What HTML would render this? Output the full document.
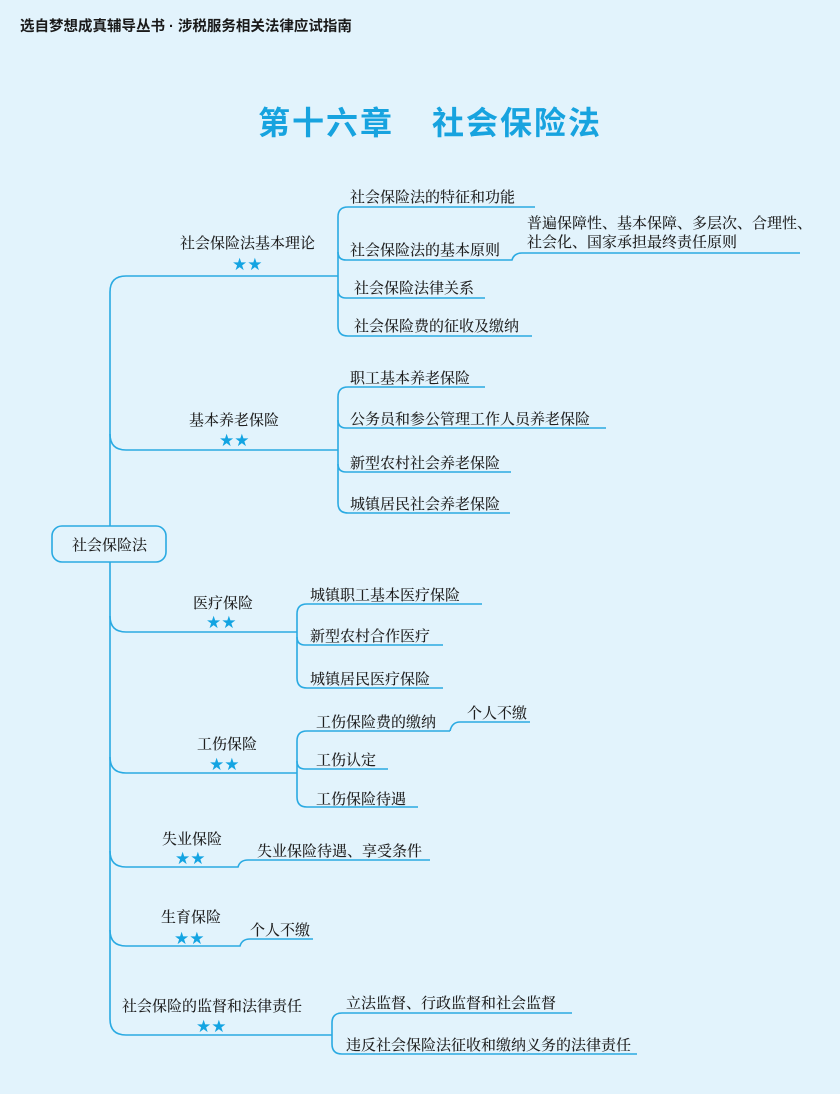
<!DOCTYPE html>
<html><head><meta charset="utf-8"><style>
html,body{margin:0;padding:0;}
body{width:840px;height:1094px;background:#e2f3fc;overflow:hidden;position:relative;}
svg{position:absolute;left:0;top:0;}
.t{font-family:"Liberation Serif","Noto Serif CJK SC",serif;font-size:15px;fill:#1f1f1f;font-weight:500;}
.s{font-family:"DejaVu Sans","Liberation Sans",sans-serif;font-size:17px;fill:#13a4e2;}
</style></head><body>
<svg width="840" height="1094" viewBox="0 0 840 1094">
<text x="20" y="31" style="font-family:'Liberation Sans','Noto Sans CJK SC',sans-serif;font-size:14.5px;font-weight:bold;fill:#1a1a1a">选自梦想成真辅导丛书 · 涉税服务相关法律应试指南</text>
<text x="258" y="134" style="font-family:'Liberation Sans','Noto Sans CJK SC',sans-serif;font-size:32px;font-weight:bold;fill:#17a3df;letter-spacing:2px">第十六章</text>
<text x="432" y="134" style="font-family:'Liberation Sans','Noto Sans CJK SC',sans-serif;font-size:32px;font-weight:bold;fill:#17a3df;letter-spacing:2px">社会保险法</text>

<g fill="none" stroke="#2aaae2" stroke-width="1.6">
<path d="M338,276 H126 Q110,276 110,292 V1019 Q110,1035 126,1035 H332"/>
<path d="M110,434 Q110,450 126,450 H338"/>
<path d="M110,616 Q110,632 126,632 H297"/>
<path d="M110,757 Q110,773 126,773 H297"/>
<path d="M110,851 Q110,867 126,867 H238 Q240,860 248,860 H430"/>
<path d="M110,930 Q110,946 126,946 H240 Q242,939 250,939 H313"/>
<path d="M535,207 H348 Q338,207 338,217 V326 Q338,336 348,336 H532"/>
<path d="M338,252 Q338,260 346,260 H512 Q514,253 522,253 H800"/>
<path d="M338,290 Q338,298 346,298 H485"/>
<path d="M485,387 H348 Q338,387 338,397 V503 Q338,513 348,513 H510"/>
<path d="M338,420 Q338,428 346,428 H606"/>
<path d="M338,464 Q338,472 346,472 H511"/>
<path d="M482,604 H307 Q297,604 297,614 V678 Q297,688 307,688 H443"/>
<path d="M297,637 Q297,645 305,645 H443"/>
<path d="M450,731 H307 Q297,731 297,741 V797 Q297,807 307,807 H418"/>
<path d="M450,731 Q452,722 460,722 H530"/>
<path d="M297,761 Q297,769 305,769 H388"/>
<path d="M572,1013 H342 Q332,1013 332,1023 V1044 Q332,1054 342,1054 H637"/>
</g>
<rect x="52" y="526" width="114" height="36" rx="10" fill="#e2f3fc" stroke="#2aaae2" stroke-width="1.6"/>
<text class="t" x="72" y="550">社会保险法</text>

<text class="t" x="180" y="248">社会保险法基本理论</text><text class="s" x="232" y="270">★★</text>
<text class="t" x="350" y="202">社会保险法的特征和功能</text>
<text class="t" x="527" y="228">普遍保障性、基本保障、多层次、合理性、</text>
<text class="t" x="527" y="247">社会化、国家承担最终责任原则</text>
<text class="t" x="350" y="255">社会保险法的基本原则</text>
<text class="t" x="354" y="293">社会保险法律关系</text>
<text class="t" x="354" y="331">社会保险费的征收及缴纳</text>

<text class="t" x="189" y="425">基本养老保险</text><text class="s" x="219" y="446">★★</text>
<text class="t" x="350" y="383">职工基本养老保险</text>
<text class="t" x="350" y="424">公务员和参公管理工作人员养老保险</text>
<text class="t" x="350" y="468">新型农村社会养老保险</text>
<text class="t" x="350" y="509">城镇居民社会养老保险</text>

<text class="t" x="193" y="608">医疗保险</text><text class="s" x="206" y="628">★★</text>
<text class="t" x="310" y="600">城镇职工基本医疗保险</text>
<text class="t" x="310" y="641">新型农村合作医疗</text>
<text class="t" x="310" y="684">城镇居民医疗保险</text>

<text class="t" x="197" y="749">工伤保险</text><text class="s" x="209" y="770">★★</text>
<text class="t" x="316" y="727">工伤保险费的缴纳</text>
<text class="t" x="467" y="718">个人不缴</text>
<text class="t" x="316" y="765">工伤认定</text>
<text class="t" x="316" y="804">工伤保险待遇</text>

<text class="t" x="162" y="844">失业保险</text><text class="s" x="175" y="864">★★</text>
<text class="t" x="257" y="856">失业保险待遇、享受条件</text>

<text class="t" x="161" y="922">生育保险</text><text class="s" x="174" y="944">★★</text>
<text class="t" x="250" y="935">个人不缴</text>

<text class="t" x="122" y="1011">社会保险的监督和法律责任</text><text class="s" x="196" y="1032">★★</text>
<text class="t" x="346" y="1008">立法监督、行政监督和社会监督</text>
<text class="t" x="346" y="1050">违反社会保险法征收和缴纳义务的法律责任</text>
</svg>
</body></html>
